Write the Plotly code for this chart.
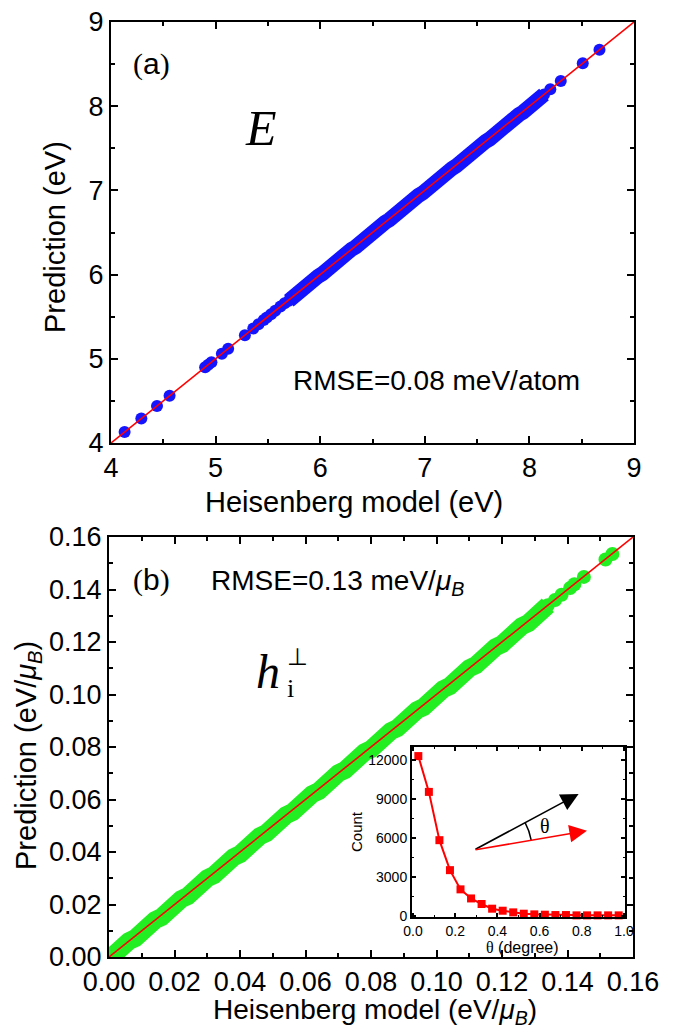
import plotly.graph_objects as go

W, H = 677, 1032

# ---------------- data ----------------
# Panel (a): total energy E (eV) -- isolated points and the dense band
heis_a_sparse = [4.13, 4.29, 4.44, 4.56, 4.90, 4.93, 4.96, 5.06, 5.12, 5.28, 5.36, 5.41,
                 5.46, 5.49, 5.53, 5.57, 5.62, 5.66, 8.20, 8.30, 8.51, 8.67]
pred_a_sparse = [4.13, 4.29, 4.44, 4.56, 4.90, 4.93, 4.96, 5.06, 5.12, 5.28, 5.36, 5.41,
                 5.46, 5.49, 5.53, 5.57, 5.62, 5.66, 8.20, 8.30, 8.51, 8.67]
heis_a_dense = [5.70, 5.74, 5.78, 5.82, 5.86, 5.90, 5.94, 5.98, 6.02, 6.06, 6.10, 6.14,
                6.18, 6.22, 6.26, 6.30, 6.34, 6.38, 6.42, 6.46, 6.50, 6.54, 6.58, 6.62,
                6.66, 6.70, 6.74, 6.78, 6.82, 6.86, 6.90, 6.94, 6.98, 7.02, 7.06, 7.10,
                7.14, 7.18, 7.22, 7.26, 7.30, 7.34, 7.38, 7.42, 7.46, 7.50, 7.54, 7.58,
                7.62, 7.66, 7.70, 7.74, 7.78, 7.82, 7.86, 7.90, 7.94, 7.98, 8.02, 8.06,
                8.10, 8.14]
pred_a_dense = [5.69, 5.74, 5.77, 5.82, 5.85, 5.90, 5.93, 5.98, 6.01, 6.06, 6.09, 6.14,
                6.17, 6.22, 6.25, 6.30, 6.33, 6.38, 6.41, 6.46, 6.49, 6.54, 6.57, 6.62,
                6.65, 6.70, 6.73, 6.78, 6.81, 6.86, 6.89, 6.94, 6.97, 7.02, 7.05, 7.10,
                7.13, 7.18, 7.21, 7.26, 7.29, 7.34, 7.37, 7.42, 7.45, 7.50, 7.53, 7.58,
                7.61, 7.66, 7.69, 7.74, 7.77, 7.82, 7.85, 7.90, 7.93, 7.98, 8.01, 8.06,
                8.09, 8.14]
diag_a = [4, 9]

# Panel (b): local field h_i (eV/muB)
heis_b_dense = [0.000, 0.002, 0.004, 0.006, 0.008, 0.010, 0.012, 0.014, 0.016, 0.018,
                0.020, 0.022, 0.024, 0.026, 0.028, 0.030, 0.032, 0.034, 0.036, 0.038,
                0.040, 0.042, 0.044, 0.046, 0.048, 0.050, 0.052, 0.054, 0.056, 0.058,
                0.060, 0.062, 0.064, 0.066, 0.068, 0.070, 0.072, 0.074, 0.076, 0.078,
                0.080, 0.082, 0.084, 0.086, 0.088, 0.090, 0.092, 0.094, 0.096, 0.098,
                0.100, 0.102, 0.104, 0.106, 0.108, 0.110, 0.112, 0.114, 0.116, 0.118,
                0.120, 0.122, 0.124, 0.126, 0.128, 0.130, 0.132, 0.134]
pred_b_dense = [-0.0008, 0.0020, 0.0032, 0.0060, 0.0072, 0.0100, 0.0112, 0.0140, 0.0152, 0.0180,
                0.0192, 0.0220, 0.0232, 0.0260, 0.0272, 0.0300, 0.0312, 0.0340, 0.0352, 0.0380,
                0.0392, 0.0420, 0.0432, 0.0460, 0.0472, 0.0500, 0.0512, 0.0540, 0.0552, 0.0580,
                0.0592, 0.0620, 0.0632, 0.0660, 0.0672, 0.0700, 0.0712, 0.0740, 0.0752, 0.0780,
                0.0792, 0.0820, 0.0832, 0.0860, 0.0872, 0.0900, 0.0912, 0.0940, 0.0952, 0.0980,
                0.0992, 0.1020, 0.1032, 0.1060, 0.1072, 0.1100, 0.1112, 0.1140, 0.1152, 0.1180,
                0.1192, 0.1220, 0.1232, 0.1260, 0.1272, 0.1300, 0.1312, 0.1340]
heis_b_sparse = [0.1362, 0.1382, 0.1408, 0.1421, 0.1450, 0.1516, 0.1537]
pred_b_sparse = [0.1360, 0.1380, 0.1406, 0.1420, 0.1448, 0.1514, 0.1535]
diag_b = [0, 0.16]

# Inset: angle distribution
theta = [0.025, 0.075, 0.125, 0.175, 0.225, 0.275, 0.325, 0.375, 0.425, 0.475,
         0.525, 0.575, 0.625, 0.675, 0.725, 0.775, 0.825, 0.875, 0.925, 0.975]
count = [12300, 9540, 5820, 3510, 2030, 1330, 900, 540, 385, 256,
         154, 103, 77, 51, 51, 26, 26, 26, 26, 26]

a_ticks = [4, 5, 6, 7, 8, 9]
b_ticks = [0.00, 0.02, 0.04, 0.06, 0.08, 0.10, 0.12, 0.14, 0.16]
in_xticks = [0.0, 0.2, 0.4, 0.6, 0.8, 1.0]
in_yticks = [0, 3000, 6000, 9000, 12000]

# ---------------- helpers ----------------
def px(x):
    return x / W

def py(y):
    return 1 - y / H

SANS = "Liberation Sans, Arial, sans-serif"
SERIF = "Liberation Serif, Times New Roman, serif"
BLUE = "#1414ff"
GREEN = "#22ee22"
RED = "#ff0000"

fig = go.Figure()

# panel (a)
fig.add_trace(go.Scatter(x=heis_a_dense, y=pred_a_dense, mode="lines+markers", xaxis="x", yaxis="y",
                         line=dict(color=BLUE, width=15),
                         marker=dict(color=BLUE, size=12, line=dict(width=0)), showlegend=False))
fig.add_trace(go.Scatter(x=heis_a_sparse, y=pred_a_sparse, mode="markers", xaxis="x", yaxis="y",
                         marker=dict(color=BLUE, size=12, line=dict(width=0)), showlegend=False))
fig.add_trace(go.Scatter(x=diag_a, y=diag_a, mode="lines", xaxis="x", yaxis="y",
                         line=dict(color=RED, width=1.6), showlegend=False))

# panel (b)
fig.add_trace(go.Scatter(x=heis_b_dense, y=pred_b_dense, mode="lines+markers", xaxis="x2", yaxis="y2",
                         line=dict(color=GREEN, width=18),
                         marker=dict(color=GREEN, size=14, line=dict(width=0)), showlegend=False))
fig.add_trace(go.Scatter(x=heis_b_sparse, y=pred_b_sparse, mode="markers", xaxis="x2", yaxis="y2",
                         marker=dict(color=GREEN, size=14, line=dict(width=0)), showlegend=False))
fig.add_trace(go.Scatter(x=diag_b, y=diag_b, mode="lines", xaxis="x2", yaxis="y2",
                         line=dict(color=RED, width=1.6), showlegend=False))

# inset
fig.add_trace(go.Scatter(x=theta, y=count, mode="lines+markers", xaxis="x3", yaxis="y3",
                         line=dict(color=RED, width=2),
                         marker=dict(color=RED, size=8, symbol="square"),
                         cliponaxis=False, showlegend=False))


def ax_style(size=27, tl=7, lw=2):
    return dict(showline=True, linewidth=lw, linecolor="black", mirror="allticks",
                ticks="inside", ticklen=tl, tickwidth=1.5, tickcolor="black",
                showgrid=False, zeroline=False, automargin=False,
                tickfont=dict(family=SANS, size=size, color="black"))

def minor(dt, tl=4, tw=1.5):
    return dict(ticks="inside", ticklen=tl, tickwidth=tw, tickcolor="black", dtick=dt, showgrid=False)

xa = ax_style(); xa.update(domain=[px(111), px(634)], anchor="y", range=[4, 9],
                           tickvals=a_ticks, ticktext=[str(v) for v in a_ticks], minor=minor(0.5))
ya = ax_style(); ya.update(domain=[py(443), py(22)], anchor="x", range=[4, 9],
                           tickvals=a_ticks, ticktext=[str(v) for v in a_ticks], minor=minor(0.5))
xb = ax_style(); xb.update(domain=[px(109), px(633)], anchor="y2", range=[0, 0.16],
                           tickvals=b_ticks, ticktext=[f"{v:.2f}" for v in b_ticks], minor=minor(0.01))
yb = ax_style(); yb.update(domain=[py(957), py(537)], anchor="x2", range=[0, 0.16],
                           tickvals=b_ticks, ticktext=[f"{v:.2f}" for v in b_ticks], minor=minor(0.01))
xi = ax_style(size=14, tl=4); xi.update(domain=[px(412), px(625)], anchor="y3", range=[-0.005, 1.005],
                                        tickvals=in_xticks, ticktext=[f"{v:.1f}" for v in in_xticks],
                                        minor=minor(0.1, 2, 1))
yi = ax_style(size=14, tl=4); yi.update(domain=[py(917), py(747)], anchor="x3", range=[-100, 13000],
                                        tickvals=in_yticks, ticktext=[str(v) for v in in_yticks],
                                        minor=minor(1500, 2, 1))

annotations = []

def txt(text, x, y, size, family=SANS, angle=0, xanchor="center", yanchor="middle", color="black"):
    annotations.append(dict(text=text, x=px(x), y=py(y), xref="paper", yref="paper",
                            showarrow=False, textangle=angle, xanchor=xanchor, yanchor=yanchor,
                            font=dict(family=family, size=size, color=color)))

MU_B = "<i>μ</i><sub><i>B</i></sub>"
# axis titles
txt("Heisenberg model (eV)", 354, 502, 29)
txt("Prediction (eV)", 55, 237, 29, angle=-90)
txt("Heisenberg model (eV/" + MU_B + ")", 375, 1031, 28, yanchor="bottom")
txt("Prediction (eV/" + MU_B + ")", 28, 756, 29, angle=-90)

# panel labels
PAR = "<span style='font-family:Liberation Serif'>%s</span>"
txt(PAR % "(" + "a" + PAR % ")", 131, 64, 30, xanchor="left")
txt(PAR % "(" + "b" + PAR % ")", 131, 580, 30, xanchor="left")
txt("<i>E</i>", 261, 128, 50, family=SERIF)
txt("RMSE=0.08 meV/atom", 291, 380, 28, xanchor="left")
txt("RMSE=0.13 meV/" + MU_B, 209, 582, 28, xanchor="left")
txt("<i>h</i>", 268, 671, 48, family=SERIF)
txt("i", 290, 688, 26, family=SERIF)
txt("⊥", 297, 657, 24, family=SERIF)

# inset titles
txt("Count", 356, 832, 15, angle=-90)
txt("<span style='font-family:Liberation Serif'>θ</span> (degree)", 522, 947, 16)

# inset arrows (decoration)
ox, oy = 474, 850
for (hx, hy, col) in [(578.6, 794, "black"), (587, 830.7, RED)]:
    annotations.append(dict(x=px(hx), y=py(hy), xref="paper", yref="paper",
                            ax=ox - hx, ay=oy - hy, axref="pixel", ayref="pixel",
                            showarrow=True, arrowhead=2, arrowsize=2.2, arrowwidth=1.6,
                            arrowcolor=col, text=""))
txt("θ", 545, 826, 20, family=SERIF)

# arc between arrows (quadratic bezier)
p0 = (525.1, 822.6)
pc = (529.6, 830.9)
p1 = (531.2, 840.2)
arc_path = f"M {px(p0[0])},{py(p0[1])} Q {px(pc[0])},{py(pc[1])} {px(p1[0])},{py(p1[1])}"

fig.update_layout(
    width=W, height=H, margin=dict(l=0, r=0, t=0, b=0),
    paper_bgcolor="white", plot_bgcolor="white",
    xaxis=xa, yaxis=ya, xaxis2=xb, yaxis2=yb, xaxis3=xi, yaxis3=yi,
    annotations=annotations,
    shapes=[dict(type="path", path=arc_path, xref="paper", yref="paper",
                 line=dict(color="black", width=1.5))],
    showlegend=False,
)

fig.write_html("out.html")
